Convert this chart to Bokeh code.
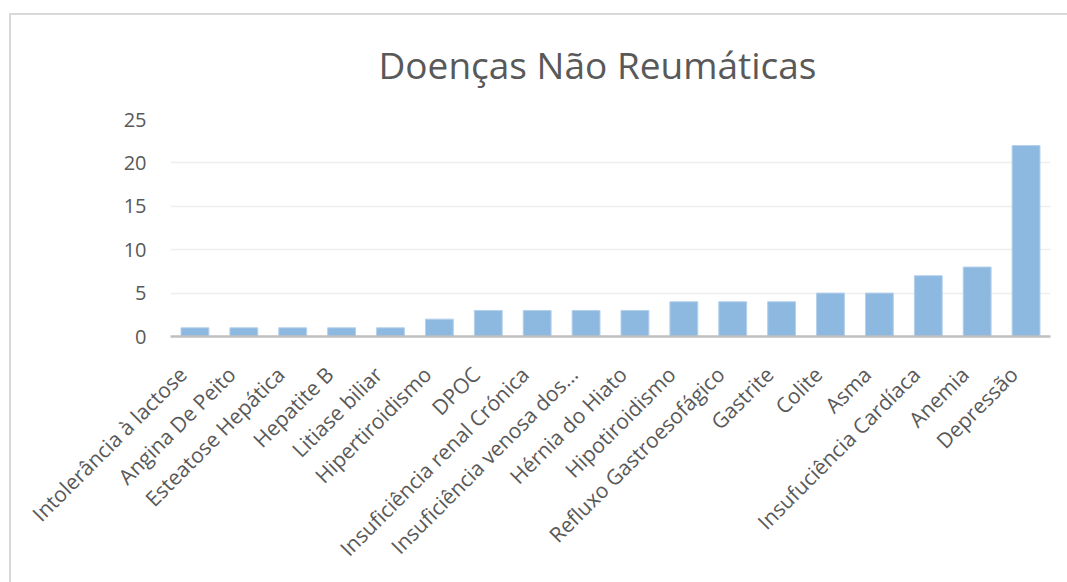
import math
from bokeh.plotting import figure
from bokeh.models import FixedTicker, Range1d, LinearAxis
from bokeh.embed import file_html
from bokeh.resources import INLINE

categories = ["Intolerância à lactose", "Angina De Peito", "Esteatose Hepática", "Hepatite B",
              "Litiase biliar", "Hipertiroidismo", "DPOC", "Insuficiência renal Crónica",
              "Insuficiência venosa dos...", "Hérnia do Hiato", "Hipotiroidismo",
              "Refluxo Gastroesofágico", "Gastrite", "Colite", "Asma",
              "Insufuciência Cardíaca", "Anemia", "Depressão"]
values = [1, 1, 1, 1, 1, 2, 3, 3, 3, 3, 4, 4, 4, 5, 5, 7, 8, 22]
y_ticks = [0, 5, 10, 15, 20, 25]

FONT = "Open Sans"
GREY = "#595959"

n = len(categories)
x_pos = [i + 0.5 for i in range(n)]  # slot centres, one per category

p = figure(x_range=Range1d(0, n), y_range=Range1d(0, 25), width=1067, height=582,
           output_backend="svg", toolbar_location=None,
           title="Doenças Não Reumáticas",
           min_border_left=170, min_border_right=17, min_border_top=119, min_border_bottom=246)

# chart-area border (left and top edges visible in the cropped reference)
p.styles = {
    "background": ("linear-gradient(#d9d9d9, #d9d9d9) 9px 13px / 2px 100% no-repeat, "
                   "linear-gradient(#d9d9d9, #d9d9d9) 9px 13px / 100% 2px no-repeat, white"),
}
p.border_fill_color = None

p.vbar(x=x_pos, top=values, width=0.57, fill_color="#8db9e1", line_color="#b4d0ec",
       line_width=1)

p.title.align = "left"
p.title.offset = 208
p.title.text_font = FONT
p.title.text_font_size = "37px"
p.title.text_font_style = "normal"
p.title.text_color = GREY
p.title.standoff = 60

p.outline_line_color = None
p.background_fill_color = "white"

p.xgrid.grid_line_color = None
p.ygrid.grid_line_color = "#eeeeee"
p.ygrid.grid_line_width = 1.5

p.yaxis.ticker = FixedTicker(ticks=y_ticks)
p.yaxis.axis_line_color = None
p.yaxis.major_tick_line_color = None
p.yaxis.minor_tick_line_color = None
p.yaxis.major_label_text_font = FONT
p.yaxis.major_label_text_font_size = "20px"
p.yaxis.major_label_text_color = GREY
p.yaxis.major_label_standoff = 18

# hide the default x axis; category labels on a slightly shifted helper axis
p.xaxis.visible = False
p.extra_x_ranges = {"lab": Range1d(0.25, n + 0.25)}
lab_axis = LinearAxis(x_range_name="lab", ticker=FixedTicker(ticks=x_pos),
                      major_label_overrides={t: c for t, c in zip(x_pos, categories)})
lab_axis.axis_line_color = "#bfbfbf"
lab_axis.axis_line_width = 2.5
lab_axis.major_tick_line_color = None
lab_axis.minor_tick_line_color = None
lab_axis.major_label_orientation = math.pi / 4
lab_axis.major_label_text_font = FONT
lab_axis.major_label_text_font_size = "21px"
lab_axis.major_label_text_color = GREY
lab_axis.major_label_standoff = 28
p.add_layout(lab_axis, "below")

open("out.html", "w").write(file_html(p, INLINE))
